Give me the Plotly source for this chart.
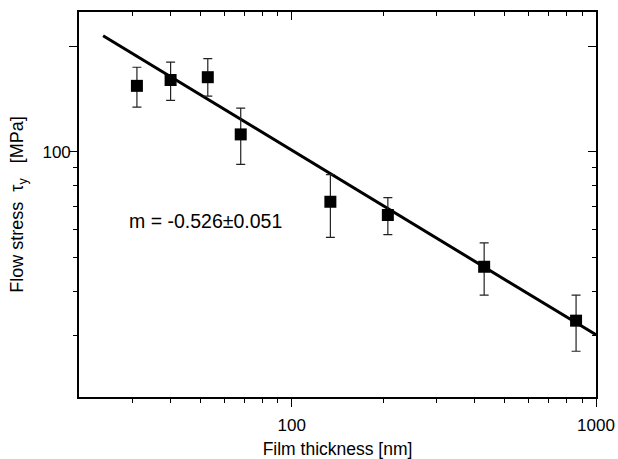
import numpy as np
import plotly.graph_objects as go

# Film thickness (nm) and measured flow stress (MPa) with error limits
thickness_nm = [31, 40, 53, 68, 134, 207, 429, 860]
flow_stress = [154, 160, 163, 112, 72, 66, 47, 33]
stress_upper = [174, 180, 184, 133, 86, 74, 55, 39]
stress_lower = [134, 140, 144, 92, 57, 58, 39, 27]

# Power-law fit  tau_y = A * h^m
fit_slope = -0.526
fit_slope_err = 0.051
fit_prefactor = 1138.0
fit_h_range = [24, 1000]

x_major = [100, 1000]
x_major_text = ["100", "1000"]
x_minor = [30, 40, 50, 60, 70, 80, 90, 200, 300, 400, 500, 600, 700, 800, 900]
y_major = [100]
y_major_text = ["100"]
y_long = [100, 200]
y_minor = [30, 40, 50, 60, 70, 80, 90]

x_range = [np.log10(20), np.log10(1000)]
y_range = [np.log10(20), np.log10(250)]

err_plus = [u - v for u, v in zip(stress_upper, flow_stress)]
err_minus = [v - l for v, l in zip(flow_stress, stress_lower)]

fit_h = np.array(fit_h_range, dtype=float)
fit_tau = fit_prefactor * fit_h ** fit_slope

FONT = "Liberation Sans, Arial, sans-serif"

fig = go.Figure()

fig.add_trace(go.Scatter(
    x=fit_h, y=fit_tau, mode="lines",
    line=dict(color="black", width=3),
    showlegend=False, hoverinfo="skip",
))

fig.add_trace(go.Scatter(
    x=thickness_nm, y=flow_stress, mode="markers",
    marker=dict(symbol="square", size=12, color="black"),
    error_y=dict(type="data", symmetric=False, array=err_plus,
                 arrayminus=err_minus, color="#222222",
                 thickness=1.2, width=4.5),
    showlegend=False,
))

# invisible traces keeping the extra tick axes alive
for xa, ya in (("x2", "y2"), ("x", "y3")):
    fig.add_trace(go.Scatter(
        x=[100], y=[100], xaxis=xa, yaxis=ya, mode="markers",
        marker=dict(opacity=0), showlegend=False, hoverinfo="skip",
    ))

axis_common = dict(
    type="log", showgrid=False, zeroline=False, automargin=False,
    showline=True, linecolor="black", linewidth=1.6,
    tickmode="array", tickcolor="black", tickwidth=1.4, ticklen=8,
    tickfont=dict(family=FONT, size=17, color="black"),
)


def minor(side):
    return dict(tickmode="array", ticks=side, ticklen=4, tickwidth=1.4,
                tickcolor="black")


fig.update_layout(
    width=618, height=459,
    margin=dict(l=79, r=22, t=12, b=62),
    plot_bgcolor="white", paper_bgcolor="white",
    xaxis=dict(
        **axis_common, range=x_range, ticks="outside",
        tickvals=x_major, ticktext=x_major_text, ticklabelstandoff=4,
        minor=dict(**minor("outside"), tickvals=x_minor),
        title=dict(text="Film thickness [nm]", standoff=9,
                   font=dict(family=FONT, size=17.5, color="black")),
    ),
    yaxis=dict(
        **{**axis_common, "ticklen": 3}, range=y_range, ticks="outside",
        tickvals=y_major, ticktext=y_major_text,
        minor=dict(**minor("outside"), tickvals=y_minor),
        title=dict(text="Flow stress  τ<sub>y</sub>   [MPa]", standoff=14,
                   font=dict(family=FONT, size=18, color="black")),
    ),
    # long left ticks at 100 and 200
    yaxis3=dict(
        **axis_common, range=y_range, overlaying="y", side="left",
        ticks="outside", tickvals=y_long, showticklabels=False,
    ),
    xaxis2=dict(
        **axis_common, range=x_range, overlaying="x", side="top",
        ticks="inside", tickvals=x_major, showticklabels=False,
        minor=dict(**minor("inside"), tickvals=x_minor),
    ),
    yaxis2=dict(
        **axis_common, range=y_range, overlaying="y", side="right",
        ticks="inside", tickvals=y_long, showticklabels=False,
        minor=dict(**minor("inside"), tickvals=y_minor),
    ),
    annotations=[dict(
        text=f"m = {fit_slope:.3f}±{fit_slope_err:.3f}",
        xref="paper", yref="paper", x=0.2456, y=0.457,
        xanchor="center", yanchor="middle", showarrow=False,
        font=dict(family=FONT, size=19.5, color="black"),
    )],
)

fig.write_html("out.html")
